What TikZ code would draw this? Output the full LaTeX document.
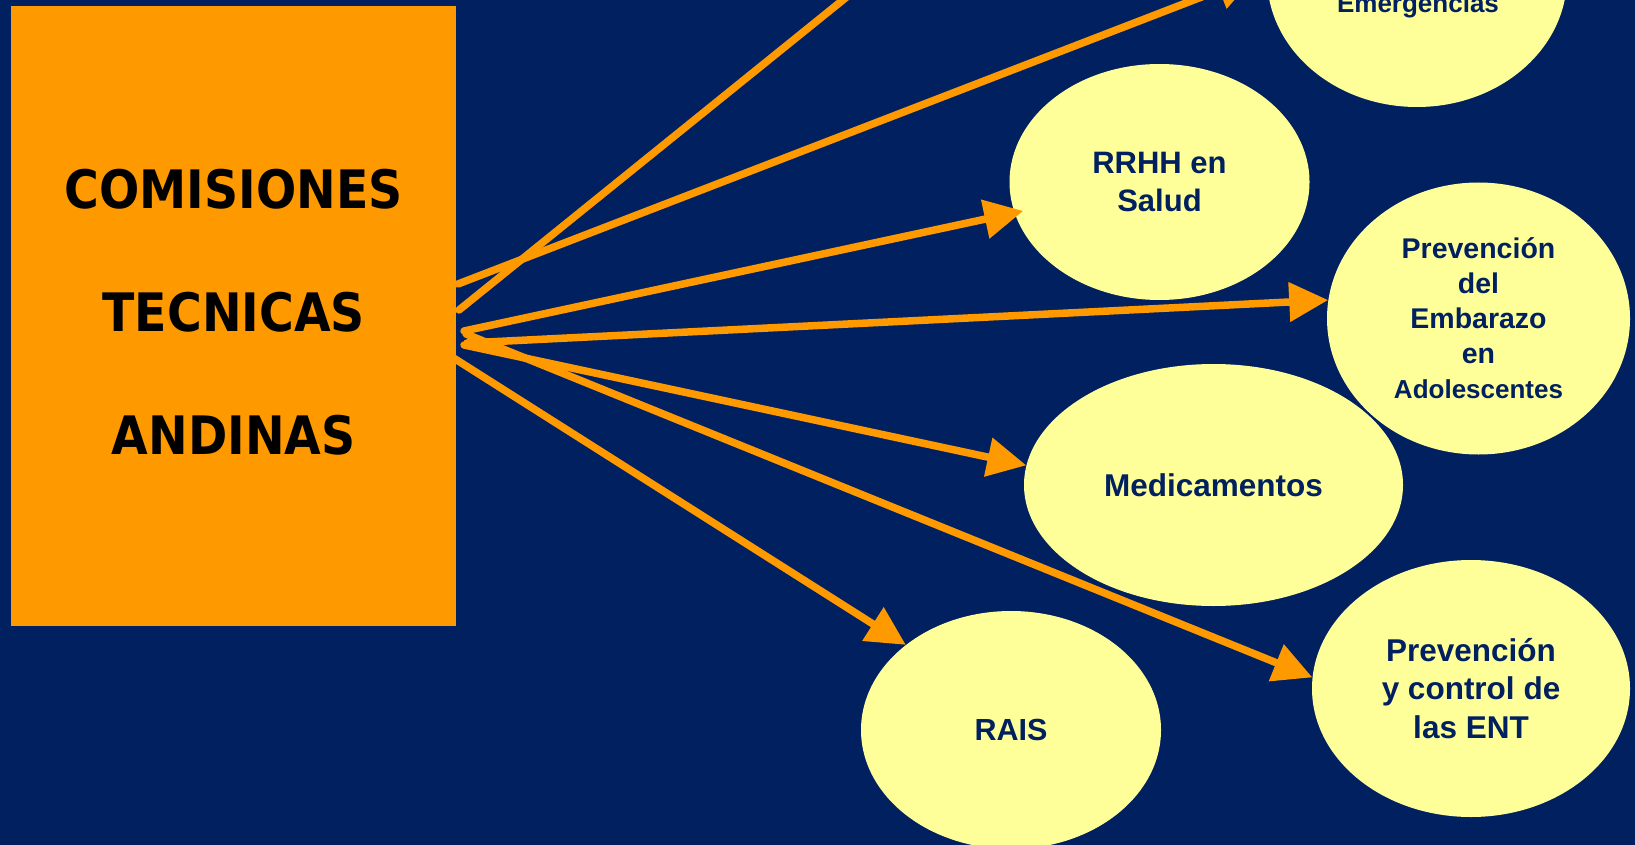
\documentclass[tikz,border=0pt]{standalone}
\usepackage{fontspec}
\usetikzlibrary{arrows.meta,shapes.geometric}
\newfontfamily\ellfont{Liberation Sans}
\newfontfamily\boxfont[FakeStretch=0.894]{DejaVu Sans}
\definecolor{navy}{RGB}{0,32,96}
\definecolor{orng}{RGB}{255,153,0}
\definecolor{pale}{RGB}{255,255,153}
\begin{document}
\begin{tikzpicture}[x=1pt,y=-1pt,
  bubble/.style={ellipse, fill=pale, inner sep=0pt, text=navy, align=center},
  conn/.style={draw=orng, line width=7.5pt, line cap=round, -{Triangle[length=39pt,width=38pt]}},
]
\fill[navy] (0,0) rectangle (1635,845);
\useasboundingbox (0,0) rectangle (1635,845);
\clip (0,0) rectangle (1635,845);
% central box
\node[fill=orng, minimum width=444.5pt, minimum height=619.3pt, inner sep=0pt, align=center,
      text depth=8pt,
      font=\boxfont\bfseries\fontsize{53}{123}\selectfont] (box) at (233.7,316)
      {COMISIONES\\TECNICAS\\ANDINAS};
% ellipses
\node[bubble, minimum width=300pt, minimum height=260pt] (emerg) at (1417,-23) {};
\node[text=navy, inner sep=0pt, anchor=base, font=\ellfont\bfseries\fontsize{26}{31}\selectfont] (emergtxt) at (1418,12.7) {Emergencias};
\node[bubble, minimum width=300pt, minimum height=236pt, font=\ellfont\bfseries\fontsize{31}{37.5}\selectfont] (rrhh) at (1159.5,182) {RRHH en\\Salud};
\node[bubble, minimum width=303pt, minimum height=272pt, font=\ellfont\bfseries\fontsize{28.5}{35}\selectfont] (emb) at (1478.5,318.5) {Prevención\\del\\Embarazo\\en\\{\fontsize{26}{34}\selectfont Adolescentes}};
\node[bubble, minimum width=379pt, minimum height=242pt, font=\ellfont\bfseries\fontsize{31.5}{38}\selectfont] (med) at (1213.5,485) {Medicamentos};
\node[bubble, minimum width=318pt, minimum height=257pt, font=\ellfont\bfseries\fontsize{31.5}{38.5}\selectfont] (ent) at (1471,688.5) {Prevención\\y control de\\las ENT};
\node[bubble, minimum width=300pt, minimum height=238pt, font=\ellfont\bfseries\fontsize{30.5}{37}\selectfont] (rais) at (1011,730) {RAIS};
% start points of connectors
\coordinate (sA) at (458,284);
\coordinate (sB) at (459,310);
\coordinate (sC) at (464,331);
\coordinate (sD) at (467,343);
\coordinate (sE) at (464,345);
\coordinate (sF) at (466,334);
\coordinate (sG) at (452,357);
\coordinate (offB) at (942,-80);
% connectors
\draw[conn, shorten >=12pt] (sA) -- (emerg.178.6);
\draw[conn] (sB) -- (offB);
\draw[conn, shorten >=-9pt] (sC) -- (rrhh.192.9);
\draw[conn] (sD) -- (emb.173.8);
\draw[conn] (sE) -- (med.174.9);
\draw[conn] (sF) -- (ent.176.9);
\draw[conn] (sG) -- (rais.141.2);
\end{tikzpicture}
\end{document}
